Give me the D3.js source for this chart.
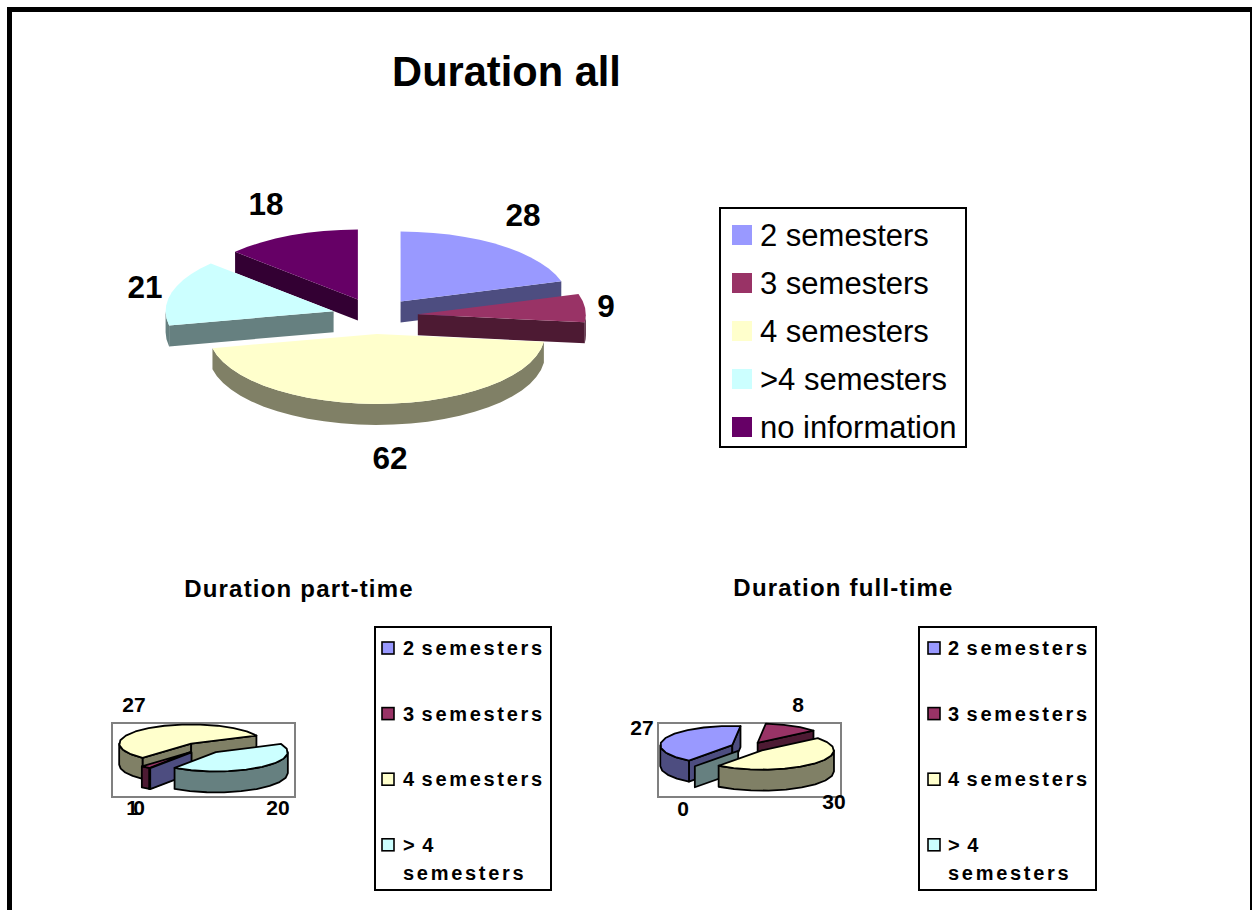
<!DOCTYPE html>
<html>
<head>
<meta charset="utf-8">
<script src="https://cdn.jsdelivr.net/npm/d3@7"></script>
<style>
html,body{margin:0;padding:0;background:#fff;overflow:hidden;}
text{font-family:"Liberation Sans",Arial,sans-serif;fill:#000;}
</style>
</head>
<body>
<svg id="chart" width="1252" height="910"></svg>
<script>
const categoriesAll=["2 semesters","3 semesters","4 semesters",">4 semesters","no information"];
const categoriesSmall=["2 semesters","3 semesters","4 semesters","> 4|semesters"];
const valuesAll=[28,9,62,21,18];
const valuesPart=[0,1,27,20];
const valuesFull=[27,8,30,0];
const topColors=["#9999ff","#993366","#ffffcc","#ccffff","#660066"];
const sideColors=["#4d4d80","#4d1a33","#808066","#668080","#330033"];

const svg=d3.select("#chart");
const color=d3.scaleOrdinal().domain(d3.range(5)).range(topColors);
const side=d3.scaleOrdinal().domain(d3.range(5)).range(sideColors);
const line=d3.line();

// outer page frame, runs off the bottom
svg.append("rect").attr("x",9.5).attr("y",9.5).attr("width",1243).attr("height",1000)
  .attr("fill","none").attr("stroke","#000").attr("stroke-width",5);

function rimpoints(cx,cy,o,a0,a1,dz){
  const n=Math.max(1,Math.ceil((a1-a0)/o.step));
  return d3.range(n+1).map(i=>{
    const a=a0+(a1-a0)*i/n;
    return [cx+o.rx*Math.sin(a),cy-o.ry*Math.cos(a)+dz];
  });
}

function drawpie(values,o){
  const arcs=d3.pie().sort(null).startAngle(o.rot).endAngle(o.rot+2*Math.PI)(values);
  const g=svg.append("g").attr("stroke",o.stroke||"none").attr("stroke-width",o.sw||0).attr("stroke-linejoin","round");
  o.order.forEach(i=>{
    const d=arcs[i], mid=(d.startAngle+d.endAngle)/2;
    const cx=o.cx+o.explode*Math.sin(mid), cy=o.cy-o.explode*(o.ry/o.rx)*Math.cos(mid);
    const rim=a=>[cx+o.rx*Math.sin(a),cy-o.ry*Math.cos(a)];
    // side faces
    const face=a=>[[cx,cy],rim(a),[rim(a)[0],rim(a)[1]+o.depth],[cx,cy+o.depth]];
    if(Math.sin(d.startAngle)<0)g.append("path").attr("d",line(face(d.startAngle))+"Z").attr("fill",side(i));
    if(d.endAngle>d.startAngle&&Math.sin(d.endAngle)>0)g.append("path").attr("d",line(face(d.endAngle))+"Z").attr("fill",side(i));
    // outer wall, only where it faces the viewer
    [[Math.PI/2,3*Math.PI/2],[5*Math.PI/2,7*Math.PI/2]].forEach(w=>{
      const a0=Math.max(d.startAngle,w[0]), a1=Math.min(d.endAngle,w[1]);
      if(a1<=a0)return;
      const pts=rimpoints(cx,cy,o,a0,a1,0).concat(rimpoints(cx,cy,o,a0,a1,o.depth).reverse());
      g.append("path").attr("d",line(pts)+"Z").attr("fill",side(i));
    });
    if(d.endAngle>d.startAngle){
      const pts=[[cx,cy]].concat(rimpoints(cx,cy,o,d.startAngle,d.endAngle,0));
      g.append("path").attr("d",line(pts)+"Z").attr("fill",color(i));
    }
  });
  o.labels.forEach((p,i)=>{
    if(!p)return;
    svg.append("text").attr("x",p[0]).attr("y",p[1]).attr("text-anchor","middle")
      .attr("font-weight","bold").attr("font-size",o.labelsize).text(values[i]);
  });
}

function title(t,x,y,size,ls){
  svg.append("text").attr("x",x).attr("y",y).attr("text-anchor","middle").attr("font-weight","bold")
    .attr("font-size",size).attr("letter-spacing",ls).text(t);
}

function boxlegend(x,y,w,h){
  svg.append("rect").attr("x",x).attr("y",y).attr("width",w).attr("height",h)
    .attr("fill","#fff").attr("stroke","#000").attr("stroke-width",2);
}

// big chart
title("Duration all",506.5,86,41.6,0);
drawpie(valuesAll,{cx:375,cy:316,rx:168,ry:70,depth:21,explode:43,rot:0,step:Math.PI/30,
  order:[4,0,3,1,2],labelsize:31.5,labels:[[523,226],[606,317],[390,469],[145,298],[266,215]]});
boxlegend(720,208,246,239);
categoriesAll.forEach((c,i)=>{
  const y=235+48*i;
  svg.append("rect").attr("x",732).attr("y",y-10).attr("width",20).attr("height",20).attr("fill",color(i));
  svg.append("text").attr("x",760).attr("y",y+11).attr("font-size",31).text(c);
});

// small charts
const frames=[[112,723],[658,723]];
frames.forEach(f=>svg.append("rect").attr("x",f[0]).attr("y",f[1]).attr("width",183).attr("height",74)
  .attr("fill","none").attr("stroke","#808080").attr("stroke-width",2));

title("Duration part-time",299,597,24,1.2);
drawpie(valuesPart,{cx:203,cy:748,rx:72,ry:19.3,depth:21,explode:20,rot:215*Math.PI/180,step:Math.PI/12,stroke:"#000",sw:1.8,
  order:[2,1,0,3],labelsize:21,labels:[[139,815],[132,815],[134,712],[278,815]]});
title("Duration full-time",843.5,596,24,1.2);
drawpie(valuesFull,{cx:749,cy:747,rx:72,ry:19.3,depth:21,explode:18,rot:217*Math.PI/180,step:Math.PI/12,stroke:"#000",sw:1.8,
  order:[0,1,3,2],labelsize:21,labels:[[642,735],[798,712],[834,809],[683,816]]});

[[375,382,403],[919,928,948]].forEach(l=>{
  boxlegend(l[0],627,l[0]===375?176:177,263);
  categoriesSmall.forEach((c,i)=>{
    const y=648+65.6*i, parts=c.split("|");
    svg.append("rect").attr("x",l[1]).attr("y",y-6).attr("width",12).attr("height",12)
      .attr("fill",color(i)).attr("stroke","#000").attr("stroke-width",1.6);
    parts.forEach((t,k)=>{
      svg.append("text").attr("x",l[2]).attr("y",y+7+k*28).attr("font-weight","bold")
        .attr("font-size",20).attr("letter-spacing",2.7).attr("word-spacing",-3.5).text(t);
    });
  });
});
</script>
</body>
</html>
